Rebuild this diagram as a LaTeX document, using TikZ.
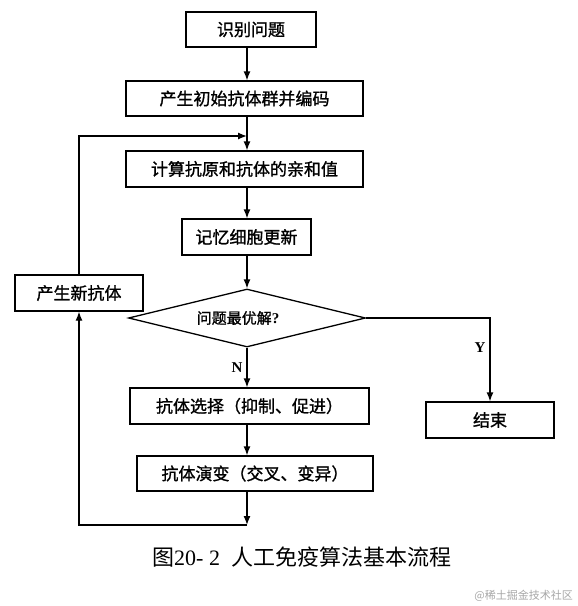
\documentclass[tikz,border=0pt]{standalone}
\usepackage{fontspec}
\setmainfont{Liberation Serif}
\newfontfamily\cjk{Noto Sans CJK SC}
\newfontfamily\cjkb[FakeBold=1.2]{Noto Sans CJK SC}
\usetikzlibrary{arrows.meta,shapes.geometric}
\tikzset{
  box/.style={draw, line width=1.3pt, fill=white, inner sep=0pt, font=\cjkb\fontsize{17}{20}\selectfont},
  dia/.style={draw, line width=1.3pt, diamond, shape aspect=4.1, inner sep=0pt, font=\cjkb\fontsize{15}{18}\selectfont},
  arr/.style={line width=1.3pt, -{Latex[length=9pt,width=7pt]}},
  lab/.style={font=\bfseries\fontsize{15}{18}\selectfont, inner sep=0pt}
}
\begin{document}
\begin{tikzpicture}[x=1pt,y=-1pt]
\useasboundingbox (0,0) rectangle (578,606);
\coordinate (ax) at (247,0);
\node[box, minimum width=130pt, minimum height=35pt] (b1) at (251,29.5) {识别问题};
\node[box, minimum width=237pt, minimum height=35pt] (b2) at (244.5,98.5) {产生初始抗体群并编码};
\node[box, minimum width=237pt, minimum height=36pt] (b3) at (244.5,169) {计算抗原和抗体的亲和值};
\node[box, minimum width=129pt, minimum height=36pt] (b4) at (246.5,237) {记忆细胞更新};
\node[dia, minimum width=237pt, minimum height=58pt] (d) at (247,318) {问题最优解{\rmfamily\bfseries ?}\hspace*{18pt}};
\node[box, minimum width=128pt, minimum height=36pt] (bn) at (79,293) {产生新抗体};
\node[box, minimum width=239pt, minimum height=36pt] (bs) at (249.5,406) {抗体选择（抑制、促进）};
\node[box, minimum width=236pt, minimum height=35pt] (be) at (255,473.5) {抗体演变（交叉、变异）};
\node[box, minimum width=128pt, minimum height=36pt] (e) at (490,420) {结束};
\coordinate (j) at (247,136);
\coordinate (cb) at (247,525);
\draw[arr] (b1.south -| ax) -- (b2.north -| ax);
\draw[arr] (b2.south -| ax) -- (b3.north -| ax);
\draw[arr] (bn.north) -- (bn.north |- j) -- (j);
\draw[arr] (b3.south -| ax) -- (b4.north -| ax);
\draw[arr] (b4.south -| ax) -- (d.north);
\draw[arr] (d.south) -- node[lab, left=4pt, pos=0.5] (ln) {N} (bs.north -| d.south);
\draw[arr] (d.east) -- (e.north |- d.east) -- node[lab, left=4pt, pos=0.35] (ly) {Y} (e.north);
\draw[arr] (bs.south -| ax) -- (be.north -| ax);
\draw[arr] (be.south -| ax) -- (cb);
\draw[arr] (cb) -- (bn.south |- cb) -- (bn.south);
\node[anchor=west, inner sep=0pt] (cap) at (152,557) {{\cjk\fontsize{22}{26}\selectfont 图}{\fontsize{22}{26}\selectfont 20- 2\ \ }{\cjk\fontsize{22}{26}\selectfont 人工免疫算法基本流程}};
\node[anchor=east, inner sep=0pt, text=black!35, font=\cjk\fontsize{11}{13}\selectfont] (wm) at (573,596) {@稀土掘金技术社区};
\end{tikzpicture}
\end{document}
